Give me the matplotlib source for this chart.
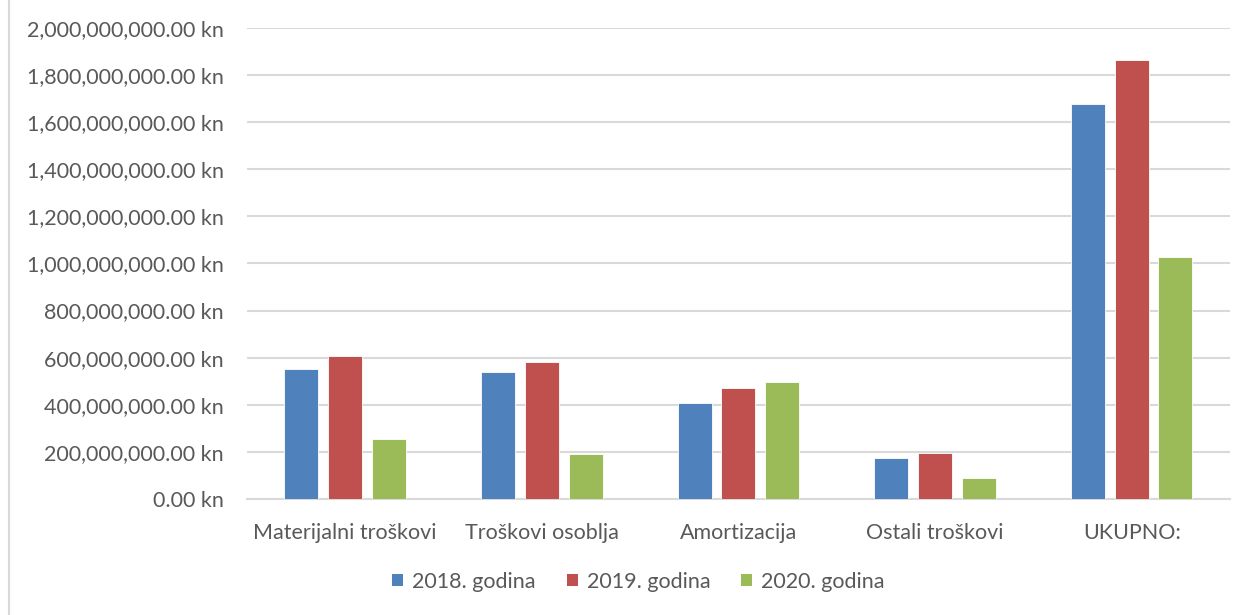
import matplotlib
matplotlib.use('Agg')
import matplotlib.pyplot as plt
import numpy as np
from matplotlib.ticker import FuncFormatter
from matplotlib.patches import Patch

# Data (kn)
categories = ["Materijalni troškovi", "Troškovi osoblja", "Amortizacija", "Ostali troškovi", "UKUPNO:"]
years = ["2018. godina", "2019. godina", "2020. godina"]
costs_2018 = [551e6, 539e6, 407e6, 172e6, 1677e6]
costs_2019 = [609e6, 583e6, 470e6, 197e6, 1862e6]
costs_2020 = [256e6, 190e6, 496e6, 88e6, 1027e6]
colors = ["#4F81BD", "#C0504D", "#9BBB59"]

TEXT = "#595959"
GRID = "#d9d9d9"
FS = 15.5

plt.rcParams['font.family'] = ['Lato', 'DejaVu Sans']

fig = plt.figure(figsize=(12.47, 6.15), dpi=100)
ax = fig.add_axes([0.198, 0.1886, 0.7884, 0.766])

x = np.arange(len(categories))
width = 0.173
step = 0.2225
for i, (vals, col) in enumerate(zip([costs_2018, costs_2019, costs_2020], colors)):
    ax.bar(x + (i - 1) * step, vals, width, color=col, edgecolor="white",
           linewidth=0.6, zorder=3)

ax.set_xlim(-0.5, len(categories) - 0.5)
ax.set_ylim(0, 2e9)
ax.set_yticks(np.arange(0, 2.01e9, 2e8))
ax.yaxis.set_major_formatter(FuncFormatter(lambda v, p: f"{v:,.2f} kn"))
ax.set_xticks(x)
ax.set_xticklabels(categories)

ax.grid(axis="y", color=GRID, linewidth=1.5, zorder=0)
for s in ["top", "right", "left"]:
    ax.spines[s].set_visible(False)
ax.spines["bottom"].set_color(GRID)
ax.spines["bottom"].set_linewidth(1.5)
ax.tick_params(axis="both", length=0, colors=TEXT, labelsize=FS)
ax.tick_params(axis="y", pad=16.5)
ax.tick_params(axis="x", pad=17)

handles = [Patch(facecolor=c, label=y) for c, y in zip(colors, years)]
fig.legend(handles=handles, loc="center", bbox_to_anchor=(0.512, 0.054), ncol=3,
           frameon=False, fontsize=FS, labelcolor=TEXT, handlelength=0.5,
           handleheight=0.5, handletextpad=0.42, columnspacing=1.44)

# left border of the chart frame
fig.add_artist(plt.Line2D([0.0075, 0.0075], [0, 1], color=GRID, linewidth=1.5,
                          transform=fig.transFigure))

fig.savefig("out.png", dpi=100)
